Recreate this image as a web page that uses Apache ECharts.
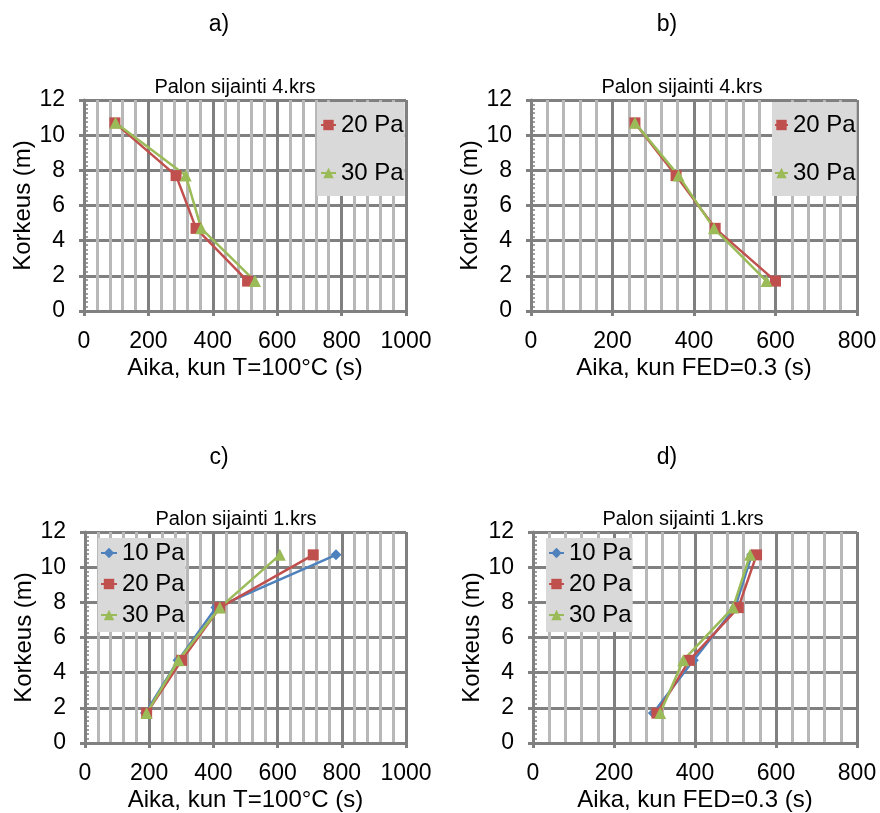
<!DOCTYPE html>
<html>
<head>
<meta charset="utf-8">
<script src="https://cdn.jsdelivr.net/npm/echarts@6/dist/echarts.min.js"></script>
<style>
html,body{margin:0;padding:0;background:#fff;}
#chart{width:880px;height:813px;}
</style>
</head>
<body>
<div id="chart"></div>
<script>
// ---- data ----
const heights = [10.7, 7.7, 4.7, 1.7];
const xTicksA = [0, 200, 400, 600, 800, 1000];
const xTicksB = [0, 200, 400, 600, 800];
const yTicks = [0, 2, 4, 6, 8, 10, 12];

const a20 = [96, 286, 348, 508];
const a30 = [98, 316, 364, 531];
const b20 = [255, 356, 452, 600];
const b30 = [255, 362, 449, 578];
const c10 = [782, 408, 290, 188];
const c20 = [711, 420, 301, 192];
const c30 = [607, 420, 291, 192];
const d10 = [540, 499, 396, 297];
const d20 = [552, 507, 386, 306];
const d30 = [536, 494, 371, 314];

const panelLetters = ['a)', 'b)', 'c)', 'd)'];
const panelTitles = ['Palon sijainti 4.krs', 'Palon sijainti 4.krs', 'Palon sijainti 1.krs', 'Palon sijainti 1.krs'];
const xNames = ['Aika, kun T=100°C (s)', 'Aika, kun FED=0.3 (s)', 'Aika, kun T=100°C (s)', 'Aika, kun FED=0.3 (s)'];
const yName = 'Korkeus (m)';

// ---- styling ----
const FONT = "'Liberation Sans', Arial, sans-serif";
const colors = {'10 Pa': '#4f81bd', '20 Pa': '#c0504d', '30 Pa': '#9bbb59'};
const symbols = {'10 Pa': 'diamond', '20 Pa': 'rect', '30 Pa': 'triangle'};
const DARK = '#808080', LIGHT = '#b8b8b8';

const grids = [
  {left: 84, top: 100, width: 322, height: 211},
  {left: 531, top: 100, width: 326, height: 211},
  {left: 85, top: 532, width: 321, height: 213},
  {left: 533, top: 532, width: 324, height: 213}
];
const xMaxes = [xTicksA[xTicksA.length-1], xTicksB[xTicksB.length-1], xTicksA[xTicksA.length-1], xTicksB[xTicksB.length-1]];
const panelData = [
  [['20 Pa', a20], ['30 Pa', a30]],
  [['20 Pa', b20], ['30 Pa', b30]],
  [['10 Pa', c10], ['20 Pa', c20], ['30 Pa', c30]],
  [['10 Pa', d10], ['20 Pa', d20], ['30 Pa', d30]]
];
const legendPos = [
  {left: 317, top: 102, padding: [11, 1, 11, 3], itemGap: 24, itemWidth: 15},
  {left: 772, top: 102, padding: [11, 1, 11, 2], itemGap: 24, itemWidth: 13},
  {left: 98, top: 538, padding: [3, 1, 5, 2], itemGap: 7, itemWidth: 16},
  {left: 546, top: 538, padding: [3, 1, 5, 2], itemGap: 7, itemWidth: 15}
];
const letterPos = [[219, 25], [667, 25], [219, 458], [667, 458]];
const titlePos = [[235, 87], [682, 87], [236, 519], [683, 519]];

const xAxes = [], yAxes = [], series = [], legends = [], graphics = [];
grids.forEach((g, i) => {
  g.show = true; g.borderColor = '#000'; g.borderWidth = 1;
  xAxes.push({
    type: 'value', gridIndex: i, min: 0, max: xMaxes[i], interval: 200,
    name: xNames[i], nameLocation: 'middle', nameGap: 45,
    nameTextStyle: {fontSize: 24, color: '#000', fontFamily: FONT},
    axisLine: {show: true, onZero: false, lineStyle: {color: DARK, width: 3}},
    axisTick: {show: true, length: 5, lineStyle: {color: DARK, width: 3}},
    axisLabel: {fontSize: 23, color: '#000', margin: 19, fontFamily: FONT, formatter: v => String(v)},
    splitLine: {show: true, lineStyle: {color: DARK, width: 3}},
    minorTick: {show: false, splitNumber: 5},
    minorSplitLine: {show: true, lineStyle: {color: LIGHT, width: 3}}
  });
  const yMain = yAxes.length;
  yAxes.push({
    type: 'value', gridIndex: i, min: yTicks[0], max: yTicks[yTicks.length-1], interval: 2,
    name: yName, nameLocation: 'middle', nameGap: 49,
    nameTextStyle: {fontSize: 24, color: '#000', fontFamily: FONT},
    axisLine: {show: true, onZero: false, lineStyle: {color: DARK, width: 3}},
    axisTick: {show: true, length: 5, lineStyle: {color: DARK, width: 3}},
    axisLabel: {fontSize: 23, color: '#000', margin: 19, fontFamily: FONT, formatter: v => String(v)},
    splitLine: {show: true, lineStyle: {color: DARK, width: 3}}
  });
  // dotted minor tick marks along the vertical axis
  yAxes.push({
    type: 'value', gridIndex: i, min: 0, max: 12, interval: 0.25, position: 'left', offset: 0,
    axisLine: {show: false, onZero: false},
    axisTick: {show: true, inside: true, length: 4, lineStyle: {color: DARK, width: 1.5}},
    axisLabel: {show: false},
    splitLine: {show: false}
  });
  panelData[i].forEach(([name, xs]) => {
    series.push({
      type: 'line', name: name, xAxisIndex: i, yAxisIndex: yMain,
      data: xs.map((x, k) => [x, heights[k]]),
      symbol: symbols[name], symbolSize: name === '30 Pa' ? 12 : 11,
      color: colors[name],
      lineStyle: {width: 2.5, color: colors[name]},
      itemStyle: {color: colors[name]},
      animation: false, z: 5
    });
  });
  const lp = legendPos[i];
  legends.push({
    orient: 'vertical', left: lp.left, top: lp.top, padding: lp.padding,
    itemGap: lp.itemGap, itemWidth: lp.itemWidth, itemHeight: 13,
    backgroundColor: '#d9d9d9', selectedMode: false,
    textStyle: {fontSize: 24, color: '#000', fontFamily: FONT},
    data: panelData[i].map(p => p[0])
  });
  graphics.push({
    type: 'text', x: letterPos[i][0], y: letterPos[i][1],
    style: {text: panelLetters[i], fill: '#000', font: '23px ' + FONT,
      textAlign: 'center', textVerticalAlign: 'middle', align: 'center', verticalAlign: 'middle'}
  });
  graphics.push({
    type: 'text', x: titlePos[i][0], y: titlePos[i][1],
    style: {text: panelTitles[i], fill: '#000', font: '20px ' + FONT,
      textAlign: 'center', textVerticalAlign: 'middle', align: 'center', verticalAlign: 'middle'}
  });
});

const chart = echarts.init(document.getElementById('chart'), null, {renderer: 'canvas'});
chart.setOption({
  animation: false,
  backgroundColor: '#fff',
  grid: grids,
  xAxis: xAxes,
  yAxis: yAxes,
  legend: legends,
  series: series,
  graphic: graphics
});
</script>
</body>
</html>
